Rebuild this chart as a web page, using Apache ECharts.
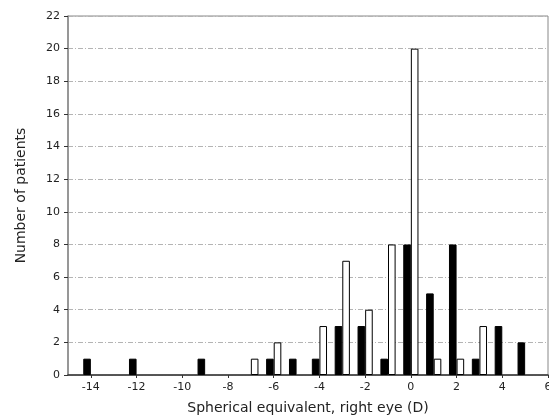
<!DOCTYPE html>
<html>
<head>
<meta charset="utf-8">
<script src="https://cdn.jsdelivr.net/npm/echarts@6/dist/echarts.min.js"></script>
<style>
    html, body { margin: 0; padding: 0; background: #fff; }
    #main { width: 549px; height: 419px; }
</style>
</head>
<body>
<div id="main"></div>
<script>
    // refraction bins (D) and patient counts, black = first group, white = second group
    var bins = [-14, -12, -9, -7, -6, -5, -4, -3, -2, -1, 0, 1, 2, 3, 4, 5];
    var black_counts = [1, 1, 1, 0, 1, 1, 1, 3, 3, 1, 8, 5, 8, 1, 3, 2];
    var white_counts = [0, 0, 0, 1, 2, 0, 3, 7, 4, 8, 20, 1, 1, 3, 0, 0];
    var x_ticks = [-14, -12, -10, -8, -6, -4, -2, 0, 2, 4, 6];

    var font = 'DejaVu Sans';

    function pairs(vals) {//skip empty bins
        var out = [];
        for (var i = 0; i < bins.length; i++) {
            if (vals[i] > 0) out.push([bins[i], vals[i]]);
        }
        return out;
    }

    var chart = echarts.init(document.getElementById('main'));
    chart.setOption({
        animation: false,
        grid: {
            left: 68, right: 1, top: 16, bottom: 44,
            outerBoundsMode: 'none',
            containLabel: false,
            show: true,
            borderColor: '#888',
            borderWidth: 1
        },
        xAxis: {
            type: 'value',
            min: -15, max: 6,
            name: 'Spherical equivalent, right eye (D)',
            nameLocation: 'middle',
            nameGap: 26,
            nameTextStyle: { fontFamily: font, fontSize: 14, color: '#222' },
            axisLine: { show: true, onZero: false, lineStyle: { color: '#333', width: 1.5 } },
            axisTick: { show: true, inside: false, length: 3, customValues: x_ticks, lineStyle: { color: '#333' } },
            axisLabel: { customValues: x_ticks, fontFamily: font, fontSize: 11, color: '#222', margin: 7 },
            splitLine: { show: false }
        },
        yAxis: {
            type: 'value',
            min: 0, max: 22, interval: 2,
            name: 'Number of patients',
            nameLocation: 'middle',
            nameGap: 40,
            nameTextStyle: { fontFamily: font, fontSize: 14, color: '#222' },
            axisLine: { show: true, onZero: false, lineStyle: { color: '#888', width: 1.5 } },
            axisTick: { show: true, inside: false, length: 4, lineStyle: { color: '#333' } },
            axisLabel: { fontFamily: font, fontSize: 11, color: '#222', margin: 8 },
            splitLine: { show: true, lineStyle: { color: '#b4b4b4', width: 1, type: [5, 2, 1, 2] } }
        },
        series: [
            {
                type: 'bar',
                data: pairs(black_counts),
                barWidth: 7.6,
                barGap: '0%',
                itemStyle: { color: '#000', borderColor: '#000', borderWidth: 1 }
            },
            {
                type: 'bar',
                data: pairs(white_counts),
                barWidth: 7.6,
                barGap: '0%',
                itemStyle: { color: '#fff', borderColor: '#000', borderWidth: 1 }
            }
        ]
    });
</script>
</body>
</html>
